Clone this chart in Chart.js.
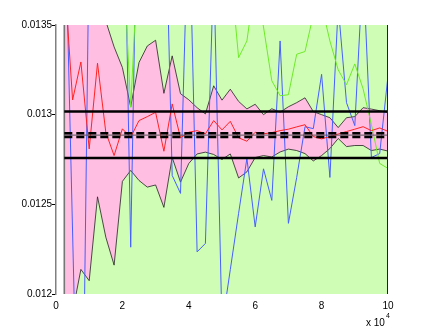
<!DOCTYPE html>
<html>
<head>
<meta charset="utf-8">
<script src="https://cdn.jsdelivr.net/npm/chart.js@4.4.1/dist/chart.umd.min.js"></script>
<style>
  body { margin: 0; background: #fff; }
  canvas { display: block; }
</style>
</head>
<body>
<canvas id="chart" width="429" height="332"></canvas>
<script>
// sample positions (x 10^4)
const xs = [0.25, 0.5, 0.75, 1, 1.25, 1.5, 1.75, 2, 2.25, 2.5,
  2.75, 3, 3.25, 3.5, 3.75, 4, 4.25, 4.5, 4.75, 5,
  5.25, 5.5, 5.75, 6, 6.25, 6.5, 6.75, 7, 7.25, 7.5,
  7.75, 8, 8.25, 8.5, 8.75, 9, 9.25, 9.5, 9.75, 10]

// running estimate (red)
const estimate = [0.01378, 0.013082, 0.013294, 0.012809, 0.013287, 0.012902, 0.012772, 0.012921, 0.012874, 0.012967,
  0.012989, 0.013013, 0.012796, 0.013060, 0.012871, 0.012902, 0.012911, 0.012893, 0.012967, 0.012915,
  0.012963, 0.012871, 0.012852, 0.012902, 0.012893, 0.012900, 0.012911, 0.012919, 0.012932, 0.012944,
  0.012878, 0.012865, 0.012878, 0.012892, 0.012906, 0.012919, 0.012933, 0.012911, 0.012926, 0.012907]

// confidence band (pink)
const upper = [0.0158, 0.0151, 0.0148, 0.0146, 0.0140, 0.013522, 0.013378, 0.013263, 0.013044, 0.013291,
  0.013383, 0.013415, 0.013119, 0.013328, 0.013117, 0.013083, 0.013039, 0.013004, 0.013161, 0.013081,
  0.013142, 0.013074, 0.013032, 0.013058, 0.013000, 0.013033, 0.013014, 0.013044, 0.013067, 0.013094,
  0.013017, 0.013000, 0.012983, 0.012928, 0.012983, 0.012989, 0.013039, 0.013031, 0.013022, 0.013011]
const lower = [0.0112, 0.01190, 0.012137, 0.012074, 0.012542, 0.012317, 0.012161, 0.012628, 0.012689, 0.012633,
  0.012596, 0.012608, 0.012483, 0.012761, 0.012624, 0.012728, 0.012781, 0.012791, 0.012778, 0.012750,
  0.012781, 0.012647, 0.012681, 0.012761, 0.012772, 0.012764, 0.012792, 0.012808, 0.012800, 0.012783,
  0.012742, 0.012772, 0.012811, 0.012867, 0.012822, 0.012828, 0.012828, 0.012800, 0.012808, 0.012797]

// noisy runs
const blueRun = [0.0143, 0.01234, 0.01038, 0.0140, 0.0142, 0.0138, 0.0145, 0.01482, 0.012261, 0.01482,
  0.0142, 0.0146, 0.014528, 0.012661, 0.012561, 0.01423, 0.012235, 0.012282, 0.013828, 0.011822,
  0.012136, 0.01245, 0.012756, 0.012374, 0.012698, 0.012522, 0.013411, 0.012394, 0.01265, 0.012933,
  0.012922, 0.013225, 0.01265, 0.013606, 0.013067, 0.012939, 0.013828, 0.012761, 0.012783, 0.013217]
const greenRun = [0.0150, 0.0148, 0.0146, 0.0145, 0.0143, 0.0142, 0.0141, 0.013983, 0.013041, 0.01398,
  0.0141, 0.0142, 0.0141, 0.0140, 0.0140, 0.0139, 0.0140, 0.0139, 0.0140, 0.0139,
  0.013822, 0.013318, 0.013411, 0.013744, 0.013489, 0.013189, 0.013106, 0.013111, 0.013337, 0.013352,
  0.013556, 0.013611, 0.013411, 0.01325, 0.013167, 0.013283, 0.013144, 0.012944, 0.012728, 0.0127]

// outer band (green background) and reference levels
const outerBand = [0.0110, 0.0150]
const solidLevels = [0.013017, 0.012759]
const dashedLevels = [0.012897, 0.012875]
const trueLevel = 0.012886

const pts = ys => xs.map((x, i) => ({ x, y: ys[i] }))
const hline = v => [{ x: xs[0], y: v }, { x: xs[xs.length - 1], y: v }]

const line = (data, color, width, order, extra) => Object.assign({
  data, borderColor: color, borderWidth: width, pointRadius: 0,
  fill: false, order, clip: 0, tension: 0
}, extra)

const datasets = [
  line(hline(outerBand[1]), 'rgba(0,0,0,0)', 0, 20, { fill: 'start', backgroundColor: 'rgb(208,253,182)' }),
  line(pts(upper), '#222', 0.8, 19, { fill: '+1', backgroundColor: 'rgb(255,190,226)' }),
  line(pts(lower), '#222', 0.8, 18),
  line([{ x: xs[0], y: outerBand[0] }, { x: xs[0], y: outerBand[1] }], '#777', 1.6, 17),
  line(pts(blueRun), 'rgb(70,95,255)', 1, 6),
  line(pts(greenRun), 'rgb(110,235,40)', 1, 5),
  line(pts(estimate), 'rgb(255,35,35)', 1, 4),
  line(hline(trueLevel), '#555', 1, 3),
  ...dashedLevels.map(v => line(hline(v), '#000', 2.5, 2, { borderDash: [8, 4] })),
  ...solidLevels.map(v => line(hline(v), '#000', 2.5, 1))
]

// right box edge and the "x 10^4" exponent label
const extras = {
  id: 'extras',
  afterDatasetsDraw(chart) {
    const { ctx, chartArea } = chart
    ctx.save()
    ctx.strokeStyle = '#222'
    ctx.lineWidth = 1
    ctx.beginPath()
    ctx.moveTo(chartArea.right - 0.5, chartArea.top)
    ctx.lineTo(chartArea.right - 0.5, chartArea.bottom)
    ctx.stroke()
    ctx.fillStyle = '#000'
    ctx.font = '10px "Liberation Sans", Arial, sans-serif'
    ctx.textBaseline = 'alphabetic'
    ctx.fillText('x 10', 366, 326)
    ctx.font = '7px "Liberation Sans", Arial, sans-serif'
    ctx.fillText('4', 386, 318)
    ctx.restore()
  }
}

const ctx = document.getElementById('chart').getContext('2d')
new Chart(ctx, {
  type: 'line',
  data: { datasets },
  options: {
    responsive: false,
    animation: false,
    layout: { padding: { top: 25, right: 41, left: 0, bottom: 0 } },
    plugins: { legend: { display: false }, tooltip: { enabled: false } },
    scales: {
      x: {
        type: 'linear', min: 0, max: 10,
        grid: { display: false, drawTicks: false },
        border: { display: false },
        ticks: { stepSize: 2, color: '#000', padding: 6, font: { size: 10, family: 'Liberation Sans' } },
        afterFit: s => { s.height = 38 }
      },
      y: {
        min: 0.012, max: 0.0135,
        grid: { drawOnChartArea: false, drawTicks: true, tickLength: 4, color: '#000' },
        border: { display: true, color: '#808080', width: 1.5 },
        ticks: {
          stepSize: 0.0005, color: '#000', padding: 0,
          font: { size: 10, family: 'Liberation Sans' },
          callback: v => String(+v.toFixed(4))
        },
        afterFit: s => { s.width = 56 }
      }
    }
  },
  plugins: [extras]
})
</script>
</body>
</html>
